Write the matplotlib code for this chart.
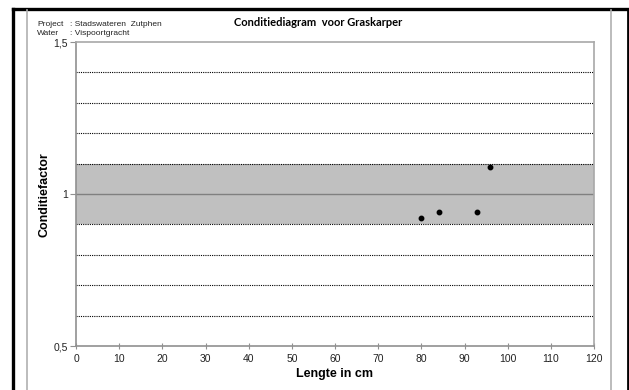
import matplotlib
matplotlib.use("Agg")
import matplotlib.pyplot as plt
from matplotlib.lines import Line2D

# Fish measurements: length (cm) and condition factor
lengte = [80, 84, 93, 96]
conditie = [0.92, 0.94, 0.94, 1.09]

x_ticks = [0, 10, 20, 30, 40, 50, 60, 70, 80, 90, 100, 110, 120]
y_ticks = [0.5, 1.0, 1.5]
y_tick_labels = ["0,5", "1", "1,5"]
grid_levels = [0.6, 0.7, 0.8, 0.9, 1.1, 1.2, 1.3, 1.4]
band = (0.9, 1.1)

W, H = 629, 390
fig = plt.figure(figsize=(W / 100, H / 100), dpi=100)
fig.patch.set_facecolor("white")

def fx(px):
    return px / W

def fy(py):
    return 1 - py / H

# Page frame: black outer border and grey inner border
for xs, ys, c, lw in [
    ([13, 13], [8.5, 390], "black", 2.4),
    ([13, 628], [8.5, 8.5], "black", 2.4),
    ([627.5, 627.5], [8.5, 390], "black", 2.0),
    ([27, 27], [10, 390], "#b0b0b0", 1.2),
    ([611, 611], [10, 390], "#b0b0b0", 1.2),
]:
    fig.add_artist(Line2D([fx(v) for v in xs], [fy(v) for v in ys],
                          color=c, lw=lw, transform=fig.transFigure))

ax = fig.add_axes([fx(76), fy(346), fx(594) - fx(76), fy(42) - fy(346)])
ax.set_xlim(0, 120)
ax.set_ylim(0.5, 1.5)

ax.axhspan(band[0], band[1], color="#c0c0c0", lw=0, zorder=0)
for g in grid_levels:
    ax.axhline(g, color="black", lw=0.8, ls=(0, (1, 1)), zorder=1)
ax.axhline(1.0, color="#808080", lw=1.0, zorder=1)

ax.plot(lengte, conditie, "o", color="black", ms=3.2, zorder=3)

ax.set_xticks(x_ticks)
ax.set_xticklabels([str(v) for v in x_ticks], fontsize=7.5,
                   family="Liberation Sans")
ax.set_yticks(y_ticks)
ax.set_yticklabels(y_tick_labels, fontsize=7.5, family="Liberation Sans")
ax.tick_params(axis="x", direction="inout", length=4, color="#909090", pad=4,
               labelcolor="#222222")
ax.tick_params(axis="y", direction="out", length=4, color="#909090", pad=2,
               labelcolor="#222222")

for side in ["left", "bottom"]:
    ax.spines[side].set_color("#909090")
    ax.spines[side].set_linewidth(1.2)
for side in ["top", "right"]:
    ax.spines[side].set_color("#a8a8a8")
    ax.spines[side].set_linewidth(1.2)

ax.set_xlabel("Lengte in cm", fontsize=9, fontweight="bold",
              family="Liberation Sans", labelpad=3)
fig.text(fx(44.5), fy(195), "Conditiefactor", rotation=90, fontsize=9,
         fontweight="bold", family="Liberation Sans",
         ha="center", va="center")

fig.text(fx(318), fy(22), "Conditiediagram  voor Graskarper", fontsize=8,
         fontweight="bold", family="Lato", ha="center", va="center")

fig.text(fx(37), fy(25), "Project", fontsize=6, family="Liberation Sans",
         va="center", color="#222222")
fig.text(fx(70), fy(25), ": Stadswateren  Zutphen", fontsize=6,
         family="Liberation Sans", va="center", color="#222222")
fig.text(fx(37), fy(33.5), "Water", fontsize=6, family="Liberation Sans",
         va="center", color="#222222")
fig.text(fx(70), fy(33.5), ": Vispoortgracht", fontsize=6,
         family="Liberation Sans", va="center", color="#222222")

fig.savefig("out.png", dpi=100, facecolor="white")
